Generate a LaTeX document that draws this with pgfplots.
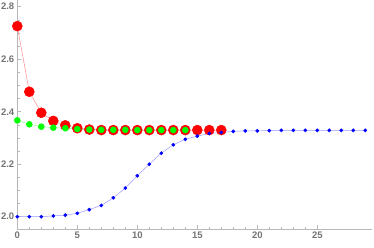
\documentclass[border=0pt]{standalone}
\usepackage{fontspec}
\setmainfont{Liberation Sans}
\usepackage{pgfplots}
\pgfplotsset{compat=1.18}
\definecolor{axgray}{gray}{0.72}
\definecolor{lblgray}{gray}{0.45}
\definecolor{lred}{rgb}{1,0.55,0.55}
\definecolor{lgreen}{rgb}{0.55,1,0.55}
\definecolor{lblue}{rgb}{0.6,0.6,1}
\begin{document}
\begin{tikzpicture}
\begin{axis}[
  scale only axis, width=354.7pt, height=229.3pt,
  xmin=0, xmax=29.56, ymin=1.952, ymax=2.8255,
  axis lines=left, axis line style={axgray, line width=0.6pt, -},
  clip=false,
  xtick={0,5,...,25}, minor x tick num=4,
  ytick={2.0,2.2,2.4,2.6,2.8}, minor y tick num=3,
  yticklabel style={/pgf/number format/fixed, /pgf/number format/fixed zerofill, /pgf/number format/precision=1},
  tick align=inside,
  major tick length=4pt, minor tick length=2.5pt,
  tick style={axgray, line width=0.5pt},
  ticklabel style={font=\fontsize{9.5}{11}\selectfont\bfseries, text=lblgray},
  /pgf/number format/assume math mode=true,
  xticklabel style={yshift=1pt},
  yticklabel style={xshift=0.5pt},
]
\addplot[lred, line width=0.5pt, mark=*, mark size=5pt, mark options={fill=red, draw=red}] coordinates {
(0,2.726) (1,2.476) (2,2.396) (3,2.365) (4,2.348) (5,2.337) (6,2.332) (7,2.330) (8,2.330) (9,2.330)
(10,2.330) (11,2.330) (12,2.330) (13,2.330) (14,2.330) (15,2.330) (16,2.330) (17,2.330)};
\addplot[lgreen, line width=0.5pt, mark=*, mark size=3pt, mark options={fill=green, draw=green}] coordinates {
(0,2.367) (1,2.352) (2,2.343) (3,2.339) (4,2.337) (5,2.334) (6,2.332) (7,2.331) (8,2.331) (9,2.331)
(10,2.330) (11,2.330) (12,2.330) (13,2.330) (14,2.330)};
\addplot[lblue, line width=0.5pt, mark=*, mark size=1.6pt, mark options={fill=blue, draw=blue}] coordinates {
(0,2.000) (1,2.000) (2,2.000) (3,2.003) (4,2.006) (5,2.013) (6,2.027) (7,2.043) (8,2.072) (9,2.109)
(10,2.156) (11,2.200) (12,2.242) (13,2.274) (14,2.295) (15,2.307) (16,2.317) (17,2.321) (18,2.325) (19,2.327)
(20,2.327) (21,2.328) (22,2.329) (23,2.329) (24,2.329) (25,2.329) (26,2.329) (27,2.329) (28,2.329) (29,2.329)};
\coordinate (O) at (axis cs:0,2.0);
\end{axis}
\pgfresetboundingbox
\path ([shift={(-17.3pt,-30.3pt)}]O) rectangle ([shift={(356.7pt,216.7pt)}]O);
\end{tikzpicture}
\end{document}
